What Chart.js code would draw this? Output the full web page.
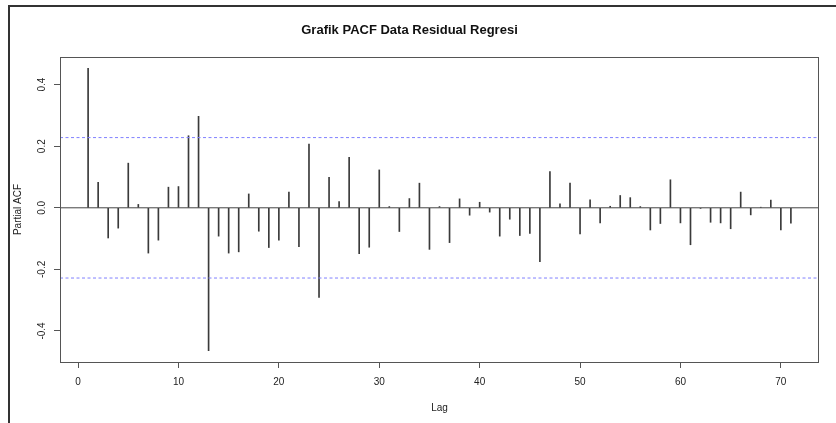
<!DOCTYPE html>
<html lang="id">

<head>
    <meta charset="UTF-8">
    <title>Grafik PACF Data Residual Regresi</title>
    <script src="https://cdn.jsdelivr.net/npm/chart.js@4.4.0/dist/chart.umd.min.js"></script>
    <style>
        body { margin: 0; background: #fff; }
        .wrap { position: relative; width: 836px; height: 423px; }
        .frame {
            position: absolute; left: 8px; top: 5px; right: 0; bottom: 0;
            border-left: 2px solid #333; border-top: 2px solid #333;
            pointer-events: none;
        }
        canvas { position: absolute; left: 0; top: 0; }
    </style>
</head>

<body>
    <div class="wrap">
        <canvas id="pacfChart" width="836" height="423"></canvas>
        <div class="frame"></div>
    </div>

    <script>
        const lags = [1, 2, 3, 4, 5, 6, 7, 8, 9, 10, 11, 12, 13, 14, 15, 16, 17, 18, 19, 20,
            21, 22, 23, 24, 25, 26, 27, 28, 29, 30, 31, 32, 33, 34, 35, 36, 37, 38, 39, 40,
            41, 42, 43, 44, 45, 46, 47, 48, 49, 50, 51, 52, 53, 54, 55, 56, 57, 58, 59, 60,
            61, 62, 63, 64, 65, 66, 67, 68, 69, 70, 71];
        const pacf = [0.453, 0.083, -0.098, -0.066, 0.145, 0.011, -0.147, -0.105, 0.067, 0.069,
            0.234, 0.297, -0.464, -0.092, -0.147, -0.143, 0.045, -0.076, -0.129, -0.105,
            0.051, -0.126, 0.207, -0.291, 0.099, 0.020, 0.164, -0.149, -0.128, 0.123,
            0.004, -0.077, 0.030, 0.080, -0.135, 0.004, -0.113, 0.029, -0.024, 0.018,
            -0.014, -0.092, -0.037, -0.090, -0.083, -0.175, 0.118, 0.013, 0.080, -0.085,
            0.026, -0.049, 0.005, 0.040, 0.033, 0.004, -0.072, -0.051, 0.091, -0.049,
            -0.120, -0.002, -0.047, -0.049, -0.068, 0.051, -0.023, 0.002, 0.025, -0.072, -0.050];
        const confLimit = 0.228;
        const xRange = [-1.8, 73.8];
        const yRange = [-0.5007, 0.4897];
        const xTicks = [0, 10, 20, 30, 40, 50, 60, 70];
        const yTicks = [-0.4, -0.2, 0, 0.2, 0.4];
        const yTickLabels = ['-0.4', '-0.2', '0.0', '0.2', '0.4'];

        const fontFamily = "'Liberation Sans', Arial, sans-serif";
        const axisColor = '#555';
        const confColor = '#8080ff';

        // kotak plot + label sumbu y diputar seperti plot R
        const rBoxPlugin = {
            id: 'rBox',
            afterDraw(chart) {
                const ctx = chart.ctx;
                const a = chart.chartArea;
                const yScale = chart.scales.y;
                ctx.save();
                ctx.strokeStyle = axisColor;
                ctx.lineWidth = 1;
                ctx.strokeRect(Math.round(a.left) + 0.5, Math.round(a.top) + 0.5,
                    Math.round(a.right - a.left) - 1, Math.round(a.bottom - a.top));
                ctx.fillStyle = '#222';
                ctx.font = '10px ' + fontFamily;
                ctx.textAlign = 'center';
                ctx.textBaseline = 'middle';
                yTicks.forEach((v, i) => {
                    ctx.save();
                    ctx.translate(42, yScale.getPixelForValue(v));
                    ctx.rotate(-Math.PI / 2);
                    ctx.fillText(yTickLabels[i], 0, 0);
                    ctx.restore();
                });
                ctx.restore();
            }
        };

        const ctx = document.getElementById('pacfChart').getContext('2d');
        new Chart(ctx, {
            type: 'bar',
            data: {
                datasets: [{
                    type: 'line',
                    label: 'batas bawah',
                    data: [{ x: xRange[0], y: -confLimit }, { x: xRange[1], y: -confLimit }],
                    borderColor: confColor,
                    borderWidth: 1,
                    borderDash: [3, 2.5],
                    pointRadius: 0
                }, {
                    type: 'line',
                    label: 'batas atas',
                    data: [{ x: xRange[0], y: confLimit }, { x: xRange[1], y: confLimit }],
                    borderColor: confColor,
                    borderWidth: 1,
                    borderDash: [3, 2.5],
                    pointRadius: 0
                }, {
                    type: 'line',
                    label: 'nol',
                    data: [{ x: xRange[0], y: 0 }, { x: xRange[1], y: 0 }],
                    borderColor: '#444',
                    borderWidth: 1,
                    pointRadius: 0
                }, {
                    label: 'PACF',
                    data: lags.map((l, i) => ({ x: l, y: pacf[i] })),
                    backgroundColor: '#3a3a3a',
                    borderWidth: 0,
                    barThickness: 1
                }]
            },
            options: {
                responsive: false,
                animation: false,
                devicePixelRatio: 1,
                layout: { padding: { left: 0, right: 17, top: 0, bottom: 0 } },
                plugins: {
                    legend: { display: false },
                    tooltip: { enabled: false },
                    title: {
                        display: true,
                        text: 'Grafik PACF Data Residual Regresi',
                        color: '#111',
                        font: { family: fontFamily, size: 13, weight: 'bold' },
                        padding: { top: 23, bottom: 18.4 }
                    }
                },
                scales: {
                    x: {
                        type: 'linear',
                        min: xRange[0],
                        max: xRange[1],
                        offset: false,
                        afterBuildTicks: (scale) => { scale.ticks = xTicks.map(v => ({ value: v })); },
                        afterFit: (scale) => { scale.height = 61; },
                        grid: { offset: false, drawOnChartArea: false, drawTicks: true, tickLength: 6, color: axisColor },
                        border: { display: false },
                        ticks: {
                            color: '#222',
                            font: { family: fontFamily, size: 10 },
                            padding: 8,
                            maxRotation: 0,
                            callback: (v) => String(v)
                        },
                        title: {
                            display: true,
                            text: 'Lag',
                            color: '#222',
                            font: { family: fontFamily, size: 10 },
                            padding: { top: 0, bottom: 9 }
                        }
                    },
                    y: {
                        min: yRange[0],
                        max: yRange[1],
                        afterBuildTicks: (scale) => { scale.ticks = yTicks.map(v => ({ value: v })); },
                        afterFit: (scale) => { scale.width = 60; },
                        grid: { drawOnChartArea: false, drawTicks: true, tickLength: 6, color: axisColor },
                        border: { display: false },
                        ticks: { display: false },
                        title: {
                            display: true,
                            text: 'Partial ACF',
                            color: '#222',
                            font: { family: fontFamily, size: 10 },
                            padding: { top: 12, bottom: 0 }
                        }
                    }
                }
            },
            plugins: [rBoxPlugin]
        });
    </script>
</body>

</html>
